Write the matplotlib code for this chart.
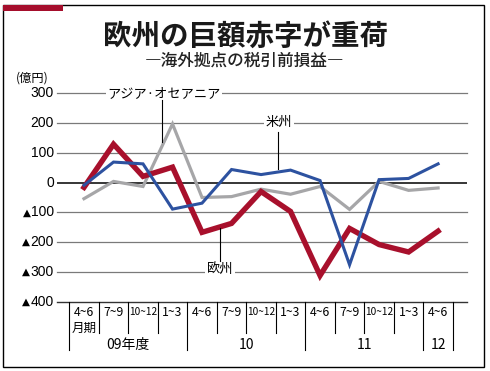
import matplotlib
matplotlib.use("Agg")
import matplotlib.pyplot as plt
import matplotlib.transforms as mtransforms
from matplotlib.patches import Rectangle

plt.rcParams['font.family'] = ['Noto Sans CJK JP', 'DejaVu Sans']

quarters = ["4~6", "7~9", "10~12", "1~3", "4~6", "7~9", "10~12", "1~3",
            "4~6", "7~9", "10~12", "1~3", "4~6"]
years = ["09年度", "10", "11", "12"]
year_spans = [(0, 4), (4, 8), (8, 12), (12, 13)]

europe = [-16, 129, 21, 52, -167, -137, -30, -97, -312, -154, -208, -233, -163]
americas = [-9, 69, 63, -89, -69, 44, 27, 42, 7, -276, 10, 14, 63]
asia = [-54, 4, -13, 197, -50, -47, -22, -39, -13, -90, 4, -26, -18]

yticks = [300, 200, 100, 0, -100, -200, -300, -400]
ytick_labels = ["300", "200", "100", "0", "▲100", "▲200", "▲300", "▲400"]

W, H = 490, 371
fig = plt.figure(figsize=(W / 100, H / 100), dpi=100)

def fx(px):
    return px / W

def fy(py):
    return 1 - py / H

# border and red band
fig.patches.append(Rectangle((fx(3), fy(366.7)), fx(484) - fx(3), fy(4.7) - fy(366.7),
                             transform=fig.transFigure, fill=False, edgecolor='black',
                             linewidth=1.0))
fig.patches.append(Rectangle((fx(3), fy(10.5)), fx(62.7) - fx(3), fy(4.7) - fy(10.5),
                             transform=fig.transFigure, facecolor='#A50E2C',
                             edgecolor='none'))

ax_left, ax_right = 57, 467
ax_top, ax_bottom = 93.3, 301.7
ax = fig.add_axes([fx(ax_left), fy(ax_bottom), fx(ax_right) - fx(ax_left),
                   fy(ax_top) - fy(ax_bottom)])

x = list(range(len(quarters)))
ax.set_xlim(-0.915, 12.98)
ax.set_ylim(-400, 300)

for v in yticks:
    if v == 0:
        ax.axhline(v, color='black', linewidth=1.1, zorder=2)
    elif v == -400:
        ax.axhline(v, color='#333333', linewidth=1.0, zorder=2, clip_on=False)
    else:
        ax.axhline(v, color='#7a7a7a', linewidth=0.9, zorder=1, clip_on=False)

ax.plot(x, asia, color='#A6A6A8', linewidth=2.3, zorder=3, solid_joinstyle='miter')
ax.plot(x, europe, color='#A8102C', linewidth=3.9, zorder=4, solid_joinstyle='miter')
ax.plot(x, americas, color='#2D52A0', linewidth=2.2, zorder=5, solid_joinstyle='miter')

for s in ax.spines.values():
    s.set_visible(False)
ax.set_xticks([])
ax.set_yticks([])
ax.patch.set_alpha(0)

# y tick labels drawn manually (small triangle for negatives)
ytrans = mtransforms.blended_transform_factory(fig.transFigure, ax.transData)
fig.canvas.draw()
renderer = fig.canvas.get_renderer()
for v, lab in zip(yticks, ytick_labels):
    digits = lab.lstrip("▲")
    t = fig.text(fx(54), v, digits, fontsize=10, ha='right', va='center',
                 transform=ytrans, family='Liberation Sans')
    if lab.startswith("▲"):
        bb = t.get_window_extent(renderer)
        fig.text(fx(bb.x0 - 0.3), v, "▲", fontsize=7.5, ha='right', va='center',
                 transform=ytrans, family='DejaVu Sans')

# annotations (labels on gridlines with leader lines)
def py_to_val(py):
    return 300 - (py - ax_top) / (ax_bottom - ax_top) * 700

def px_to_x(px):
    return -0.915 + (px - ax_left) / (ax_right - ax_left) * (12.98 + 0.915)

def label(text, px, py, lx, ly0, ly1):
    ax.text(px_to_x(px), py_to_val(py), text, fontsize=9.5, ha='center', va='center',
            zorder=6, bbox=dict(facecolor='white', edgecolor='none', pad=1.0))
    ax.plot([px_to_x(lx), px_to_x(lx)], [py_to_val(ly0), py_to_val(ly1)],
            color='black', linewidth=0.8, zorder=6)

label("アジア·オセアニア", 164, 93.3, 161.7, 100, 142)
label("米州", 279, 122.3, 278.3, 131.5, 169.3)
label("欧州", 220, 270.3, 220, 228.3, 261)

# bottom table
trans = mtransforms.blended_transform_factory(ax.transData, ax.transAxes)

def yfrac(py):
    return (ax_bottom - py) / (ax_bottom - ax_top)

year_bounds = set()
for a, b in year_spans:
    year_bounds.add(a)
    year_bounds.add(b)
for i in range(len(quarters) + 1):
    bottom = 350 if i in year_bounds else 333.3
    ax.plot([i - 0.5, i - 0.5], [0, yfrac(bottom)], color='black', linewidth=0.8,
            transform=trans, clip_on=False)

for i, q in enumerate(quarters):
    fs = 7.3 if len(q) > 3 else 8.8
    ax.text(i, yfrac(312), q, fontsize=fs, ha='center', va='center',
            transform=trans, clip_on=False)
ax.text(0, yfrac(328.5), "月期", fontsize=9, ha='center', va='center',
        transform=trans, clip_on=False)
for (a, b), yl in zip(year_spans, years):
    ax.text((a + b - 1) / 2, yfrac(345), yl, fontsize=10, ha='center', va='center',
            transform=trans, clip_on=False)

# titles
fig.text(0.5, fy(37), "欧州の巨額赤字が重荷", fontsize=20.5, fontweight='bold',
         ha='center', va='center', color='#1a1a1a')
fig.text(0.5, fy(60.5), "―海外拠点の税引前損益―", fontsize=12, fontweight='medium',
         ha='center', va='center', color='#222222')
fig.text(fx(16), fy(78), "(億円)", fontsize=8.8, ha='left', va='center')

fig.savefig("out.png", dpi=100)
